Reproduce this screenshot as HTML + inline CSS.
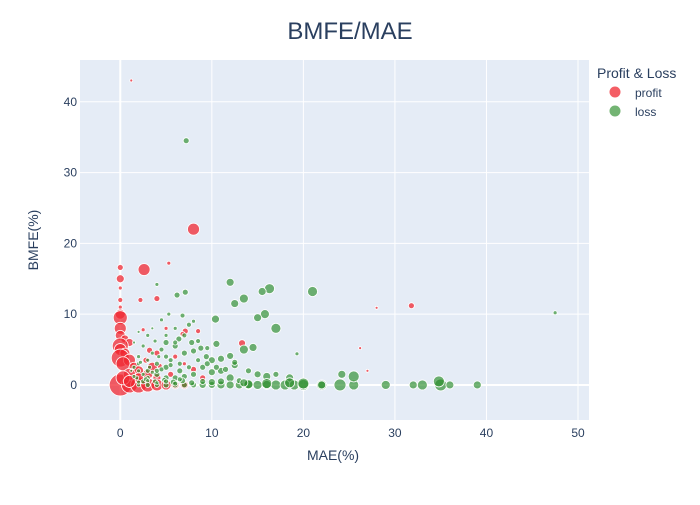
<!DOCTYPE html>
<html><head><meta charset="utf-8"><style>
body{margin:0;background:#fff;font-family:"Liberation Sans",sans-serif}
svg text{font-family:"Liberation Sans",sans-serif;fill:#2a3f5f}
</style></head><body>
<svg id="chart" width="700" height="500" xmlns="http://www.w3.org/2000/svg">
<rect x="0" y="0" width="700" height="500" fill="#fff"/>
<rect x="80" y="60" width="509" height="360" fill="#e5ecf6"/>
<g id="grid"></g>
<g id="marks"></g>
<g id="ticks"></g>
<text x="350" y="39" text-anchor="middle" font-size="24">BMFE/MAE</text>
<text x="333" y="460" text-anchor="middle" font-size="14">MAE(%)</text>
<text transform="translate(38,240) rotate(-90)" text-anchor="middle" font-size="14">BMFE(%)</text>
<g>
<text x="597" y="78" font-size="14">Profit &amp; Loss</text>
<g><circle cx="615" cy="92" r="5.5" fill="rgb(240,40,50)" fill-opacity="0.75"/><text x="635" y="97" font-size="12">profit</text></g>
<g><circle cx="615" cy="111" r="5.5" fill="rgb(40,140,40)" fill-opacity="0.65"/><text x="635" y="116" font-size="12">loss</text></g>
</g>
</svg>
<script>
const xTicks=[0,10,20,30,40,50];
const yTicks=[0,10,20,30,40];
const profitMAE=[1.2,8,2.6,0,0,5.3,0,0,0,2.2,4,0,0,0,0,0.5,1,0,0,0.5,0,1,0.3,1.5,2,3,4,0,1,2,3,4,5,6,7,2,1,0.3,2.5,4.3,7.1,6.8,13.3,8.5,5,3.2,4,6,7,9,28,31.8,26.2,27,1,3.5,2.8,5.5,8];
const profitBMFE=[43,22,16.3,16.6,15,17.2,13.7,12,11,12,12.2,10,9.5,8,7,6.5,6,5.5,5,4.5,3.8,3.5,3,2.5,2,1.5,1,0,0,0,0,0,0,0,0,1,1.5,1,7.8,2.7,7.6,7.2,5.9,7.6,8,4.9,4.5,4,3,1,10.9,11.2,5.2,2,0.5,2.5,3.5,1.5,2.2];
const profitSize=[1.5,6,6,3,4,2,2,2.5,2,2.5,3,5,7,6,5,4,4,8,6,5,9,6,7,5,5,5,4,11,8,8,7,6,5,4,4,5,6,7,2,2.5,3,2.5,3.5,2.5,2,3,3,2.5,2,3,1.5,3,1.5,1.5,6,5,3,3,3];
const lossMAE=[7.2,12,16.3,15.5,21,13.5,12.5,15.8,15,10.4,17,47.5,19.3,7.1,6.2,4,5.3,6.8,8,7.5,10.5,14.5,13.5,12,11,10,9.4,8.8,7.8,6.4,5,4.5,3.8,3,2.5,6,7,8,9,11,12.5,14,15,16,17,18.5,12,10,8,6.5,5,4,3,3,4,5,6,7,2,2.5,2,3,4,5,6,7,8,9,10,11,12,13,14,15,16,17,18,19,20,22,24,25.5,29,32,33,35,36,39,24.2,25.5,20,22,18.5,16,14,34.8,1.5,2,3.5,4.5,5,6,2,3.5,5.5,6.5,7.5,8.5,1.5,2,3,4,5,6,7,8.5,9.5,11.5,13,1.8,2.8,3.8,4.8,5.8,6.8,7.8,9,10,11,13.5,1.5,2.5,3.5,4.5,5.5,6.5,2,3,4,5,6,1.2,2.2,3.2,4.2,9.5,10.5,12.5];
const lossBMFE=[34.5,14.5,13.6,13.2,13.2,12.2,11.5,10,9.5,9.3,8,10.2,4.4,13.1,12.7,14.2,10,9.8,9,8.5,5.8,5.3,5,4.1,3.7,3.5,4,5.2,6,6.5,6,5,6.2,7,5.5,5.5,4.5,4.8,2.5,2,2.8,2,1.5,1.2,1.5,1,1,1.8,1.5,2,2.5,3,3.5,1,1.5,1,1,1.2,2,0.5,0,0,0,0,0,0,0,0,0,0,0,0,0,0,0,0,0,0,0,0,0,0,0,0,0,0,0,0,1.5,1.2,0.2,0,0.3,0.2,0.1,0.5,6,7.5,8,9.2,7,8,4,4.5,3.5,3,2.5,3.5,2.5,3,2,2,4,6,7,6.2,5.2,2.2,0.6,1,0.8,0.5,0.7,0.4,0.6,0.3,0.5,0.4,0.5,0.3,1.2,1.5,1.8,2.2,2.8,0.8,0.4,0.6,0.3,0.5,0.2,2,3.2,2.5,4,3,2.5,3.2];
const lossSize=[3,4,5,4,5,4.5,4,4.5,4,4,5,2,2,3,3,2,2,2.5,2,2.5,3.5,4,4.5,3.5,3.5,3.5,3,3,3,3,3,2.5,2,2,2,3,3,3,3,3.5,3.5,3,3.5,4,3,4,4,3.5,3,3,3,2.5,2,2.5,3,3,3,3,2,2.5,2,2.5,2.5,3,3,3,3,3.5,3.5,4,4,4,4.5,4.5,4.5,5,5,5,5.5,5,6,5,4.5,4,5,6,4,4,4,5.5,5.5,4,5,5,4.5,5.5,1.5,1.5,1.5,2,2,2,2,2,2.5,2.5,2.5,2.5,2,2,2.5,2.5,2.5,2.5,2.5,2.5,2.5,3,3,2,2.5,2.5,2.5,3,3,3,3,3.5,3.5,4,2,2,2,2.5,2.5,2.5,2,2,2,2.5,2.5,1.5,2,2,2,3,3,3];
const NS="http://www.w3.org/2000/svg";
const xMin=-4.4,xMax=51.2,yMin=-4.95,yMax=45.9;
const L=80,R=589,T=60,B=420;
function xs(v){return L+(v-xMin)/(xMax-xMin)*(R-L);}
function ys(v){return B-(v-yMin)/(yMax-yMin)*(B-T);}
const grid=document.getElementById('grid'),ticks=document.getElementById('ticks'),marks=document.getElementById('marks');
xTicks.forEach(t=>{
 const l=document.createElementNS(NS,'line');
 
 
 l.setAttribute('x1',xs(t));l.setAttribute('x2',xs(t));l.setAttribute('y1',T);l.setAttribute('y2',B);
 l.setAttribute('stroke','#fff');l.setAttribute('stroke-width',t===0?2:1);grid.appendChild(l);
 const tx=document.createElementNS(NS,'text');
 
 
 tx.setAttribute('x',xs(t));tx.setAttribute('y',B+17);tx.setAttribute('text-anchor','middle');tx.setAttribute('font-size','12');tx.textContent=t;ticks.appendChild(tx);
});
yTicks.forEach(t=>{
 const l=document.createElementNS(NS,'line');
 
 
 l.setAttribute('x1',L);l.setAttribute('x2',R);l.setAttribute('y1',ys(t));l.setAttribute('y2',ys(t));
 l.setAttribute('stroke','#fff');l.setAttribute('stroke-width',t===0?2:1);grid.appendChild(l);
 const tx=document.createElementNS(NS,'text');
 
 
 tx.setAttribute('x',L-3);tx.setAttribute('y',ys(t)+4);tx.setAttribute('text-anchor','end');tx.setAttribute('font-size','12');tx.textContent=t;ticks.appendChild(tx);
});
function draw(xa,ya,sa,color,op,name){
 for(let i=0;i<xa.length;i++){
  const c=document.createElementNS(NS,'circle');
  
  
  c.setAttribute('cx',xs(xa[i]));c.setAttribute('cy',ys(ya[i]));c.setAttribute('r',sa[i]);
  c.setAttribute('fill',color);c.setAttribute('fill-opacity',op);
  c.setAttribute('stroke','#fff');c.setAttribute('stroke-width','0.8');
  marks.appendChild(c);
 }
}
draw(profitMAE,profitBMFE,profitSize,'rgb(240,40,50)',0.75,'profit-point');
draw(lossMAE,lossBMFE,lossSize,'rgb(40,140,40)',0.65,'loss-point');
</script>
</body></html>
